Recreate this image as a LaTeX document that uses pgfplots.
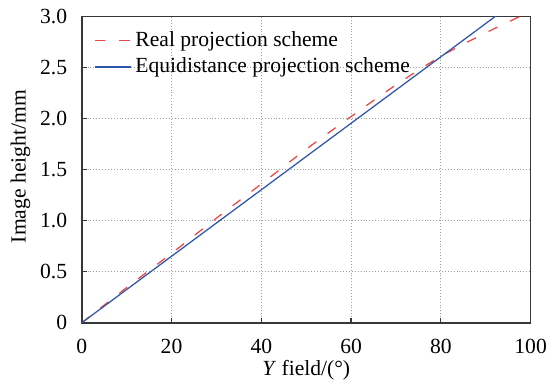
\documentclass[border=0pt]{standalone}
\usepackage{fontspec}
\setmainfont{Liberation Serif}
\usepackage{pgfplots}
\pgfplotsset{compat=1.18}
\usetikzlibrary{calc}
\definecolor{myred}{RGB}{235,70,70}
\definecolor{myblue}{RGB}{45,85,170}
\definecolor{axgray}{RGB}{55,55,55}
\newcommand{\myfont}{\fontsize{10.4pt}{12.5pt}\selectfont}
\begin{document}
\myfont
\begin{tikzpicture}
\begin{axis}[
  name=ax,
  scale only axis,
  width=216.3pt, height=147.6pt,
  xmin=0, xmax=100, ymin=0, ymax=3,
  xtick={0,20,40,60,80,100},
  xticklabels={0,20,40,60,80,100},
  ytick={0,0.5,1,1.5,2,2.5,3},
  yticklabels={0,0.5,1.0,1.5,2.0,2.5,3.0},
  xtick pos=bottom, ytick pos=left,
  tick align=inside,
  major tick length=2.4pt,
  tick style={axgray, line width=0.6pt},
  axis line style={axgray, line width=0.8pt},
  grid=major,
  major grid style={densely dotted, gray!75, line width=0.4pt},
  xticklabel style={anchor=base, yshift=-14.6pt, font=\myfont},
  yticklabel style={anchor=east, xshift=-3.4pt, font=\myfont},
  xlabel={\textit{Y} field/(°)},
  xlabel style={at={(axis description cs:0.5,-0.172)}, anchor=base, font=\myfont},
  ylabel={Image height/mm},
  ylabel style={at={(axis description cs:-0.1248,0.51)}, anchor=base, font=\myfont},
  legend style={at={(axis description cs:0.0,1.0)}, anchor=north west, draw=none, fill=none,
    font=\myfont, xshift=3pt, yshift=-3pt},
  legend cell align=left,
]
\addplot[myred, line width=0.6pt, dash pattern=on 4.8pt off 6.7pt, smooth] coordinates {
  (0,0) (10,0.345) (20,0.68) (30,1.025) (40,1.36) (50,1.70) (60,2.02) (70,2.33) (80,2.61) (90,2.84) (100,3.05)
};
\addlegendentry{Real projection scheme}
\addplot[myblue, line width=0.6pt] coordinates {
  (0,0) (100,3.257)
};
\addlegendentry{Equidistance projection scheme}
\end{axis}
\path ($(ax.south west)+(-39.4pt,-30.6pt)$) rectangle ($(ax.north east)+(8.1pt,7.95pt)$);
\end{tikzpicture}
\end{document}
